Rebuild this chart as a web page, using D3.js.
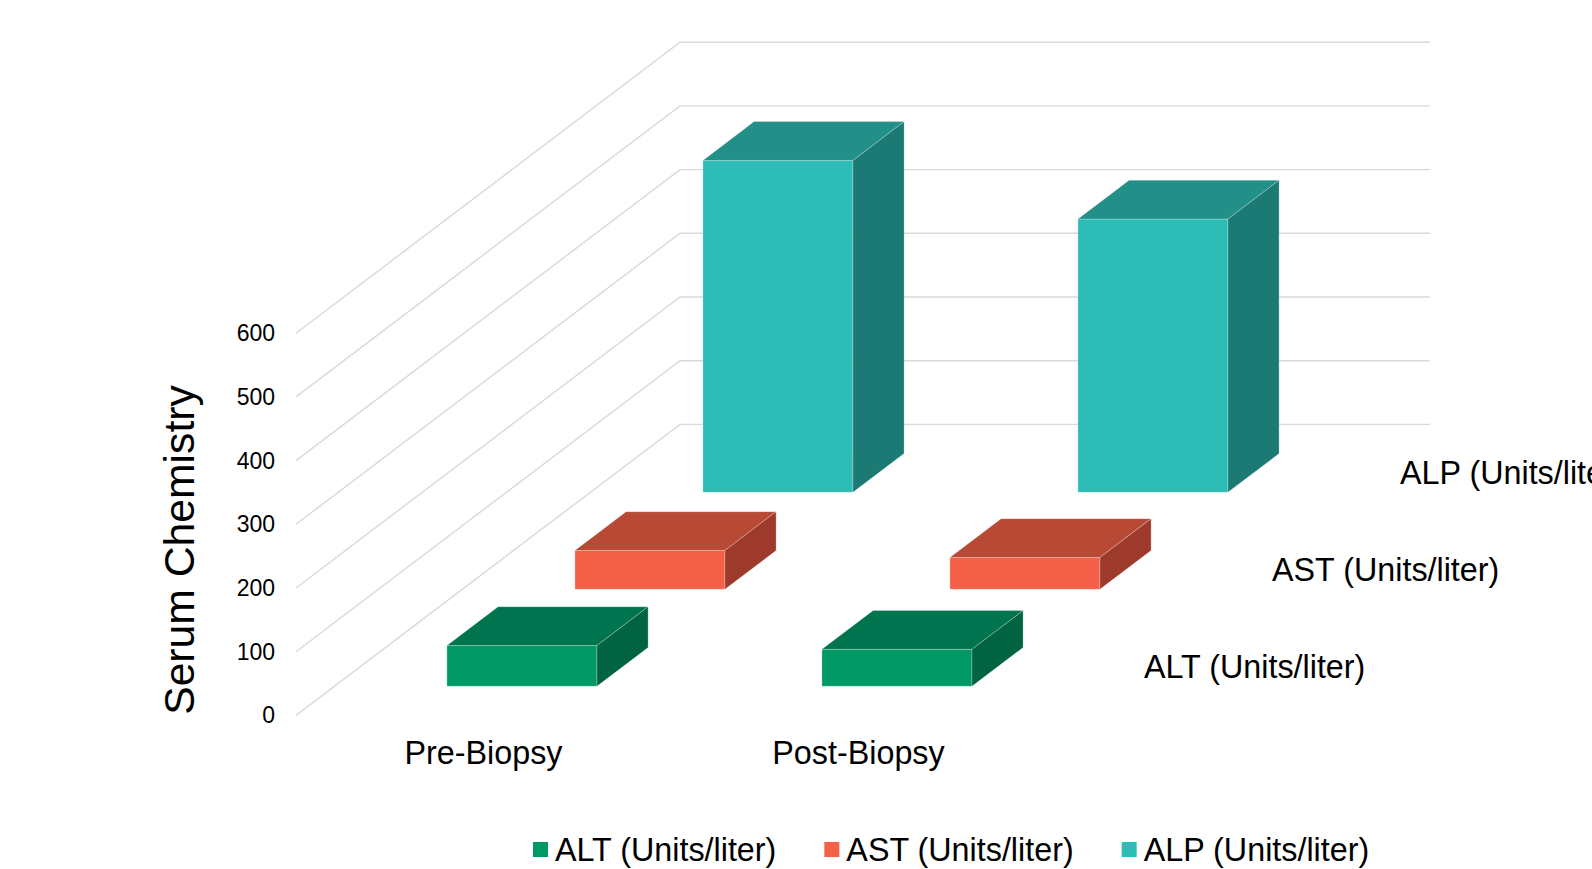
<!DOCTYPE html>
<html>
<head>
<meta charset="utf-8">
<script src="https://cdn.jsdelivr.net/npm/d3@7"></script>
<style>
  body { margin: 0; background: #fff; }
  svg text { font-family: "Liberation Sans", Arial, sans-serif; fill: #000; }
</style>
</head>
<body>
<figure style="margin:0"></figure>
<script>

// data
var categories = ["Pre-Biopsy", "Post-Biopsy"];
var series = ["ALT (Units/liter)", "AST (Units/liter)", "ALP (Units/liter)"];
var altValues = [64, 58];
var astValues = [61, 50];
var alpValues = [521, 429];
var yTicks = [0, 100, 200, 300, 400, 500, 600];

var values = [altValues, astValues, alpValues];

// front, top, side shades for each series
var colors = [
  { front: "#009966", top: "#00744e", side: "#006442" },
  { front: "#f46048", top: "#b84a35", side: "#9d3a2c" },
  { front: "#2dbdb6", top: "#228f88", side: "#1b7a74" }
];

var width = 1592, height = 869;

// 3d set up: front plane + depth vector
var depthDx = 384, depthDy = -291;

var x = d3.scaleBand()
  .domain(categories)
  .range([296, 1046]);

var y = d3.scaleLinear()
  .domain([0, 600])
  .range([715.4, 333.2]);

var z = d3.scaleBand()
  .domain(series)
  .range([0, 1]);

function project(px, v, d) {
  return [px + d * depthDx, y(v) + d * depthDy];
}

function poly(pts) {
  return pts.map(function(p) { return p[0] + "," + p[1]; }).join(" ");
}

var svg = d3.select("figure").append("svg")
  .attr("width", width)
  .attr("height", height);

// gridlines: side wall diagonal + back wall horizontal
var grid = svg.append("g").attr("class", "grid");

yTicks.forEach(function(t) {
  var a = project(x.range()[0], t, 0),
      b = project(x.range()[0], t, 1),
      c = project(x.range()[1], t, 1);
  grid.append("polyline")
    .attr("points", poly([a, b, c]))
    .attr("fill", "none")
    .attr("stroke", "#d9d9d9")
    .attr("stroke-width", 1.4);
});

// y tick labels
svg.append("g").selectAll("text")
  .data(yTicks)
  .enter().append("text")
  .attr("x", 275)
  .attr("y", function(d) { return y(d); })
  .attr("text-anchor", "end")
  .attr("dominant-baseline", "central")
  .style("font-size", "23px")
  .text(function(d) { return d; });

// axis title
svg.append("text")
  .attr("transform", "translate(194,550) rotate(-90)")
  .attr("text-anchor", "middle")
  .style("font-size", "42.7px")
  .text("Serum Chemistry");

// bars, back row first so front rows paint over
var barFrac = 0.4, depthFrac = 0.4;
var bars = svg.append("g").attr("class", "bars");

for (var s = series.length - 1; s >= 0; s--) {
  var d0 = z(series[s]) + z.bandwidth() * (1 - depthFrac) / 2,
      d1 = d0 + z.bandwidth() * depthFrac;
  categories.forEach(function(cat, i) {
    var v = values[s][i],
        x0 = x(cat) + x.bandwidth() * (1 - barFrac) / 2,
        x1 = x0 + x.bandwidth() * barFrac,
        col = colors[s];
    var g = bars.append("g");
    // front
    g.append("polygon")
      .attr("points", poly([project(x0, 0, d0), project(x1, 0, d0), project(x1, v, d0), project(x0, v, d0)]))
      .attr("fill", col.front);
    // top
    g.append("polygon")
      .attr("points", poly([project(x0, v, d0), project(x1, v, d0), project(x1, v, d1), project(x0, v, d1)]))
      .attr("fill", col.top);
    // right side
    g.append("polygon")
      .attr("points", poly([project(x1, 0, d0), project(x1, 0, d1), project(x1, v, d1), project(x1, v, d0)]))
      .attr("fill", col.side);
    g.selectAll("polygon")
      .attr("stroke", "#ffffff")
      .attr("stroke-opacity", 0.25)
      .attr("stroke-width", 1)
      .attr("stroke-linejoin", "round");
  });
}

// category labels under the front edge
svg.append("g").selectAll("text")
  .data(categories)
  .enter().append("text")
  .attr("x", function(d) { return x(d) + x.bandwidth() / 2; })
  .attr("y", 753)
  .attr("text-anchor", "middle")
  .attr("dominant-baseline", "central")
  .style("font-size", "32.3px")
  .text(function(d) { return d; });

// series labels along the depth axis
svg.append("g").selectAll("text")
  .data(series)
  .enter().append("text")
  .attr("x", function(d) { return project(x.range()[1], 0, z(d) + z.bandwidth() / 2)[0] + 34; })
  .attr("y", function(d) { return project(x.range()[1], 0, z(d) + z.bandwidth() / 2)[1]; })
  .attr("dominant-baseline", "central")
  .style("font-size", "32.3px")
  .text(function(d) { return d; });

// legend
var legend = svg.append("g").attr("class", "legend");
var lx = 533;
series.forEach(function(name, i) {
  legend.append("rect")
    .attr("x", lx)
    .attr("y", 842)
    .attr("width", 15)
    .attr("height", 15)
    .attr("fill", colors[i].front);
  var t = legend.append("text")
    .attr("x", lx + 22)
    .attr("y", 849.5)
    .attr("dominant-baseline", "central")
    .style("font-size", "32.3px")
    .text(name);
  lx += 22 + t.node().getComputedTextLength() + 48;
});

</script>
</body>
</html>
